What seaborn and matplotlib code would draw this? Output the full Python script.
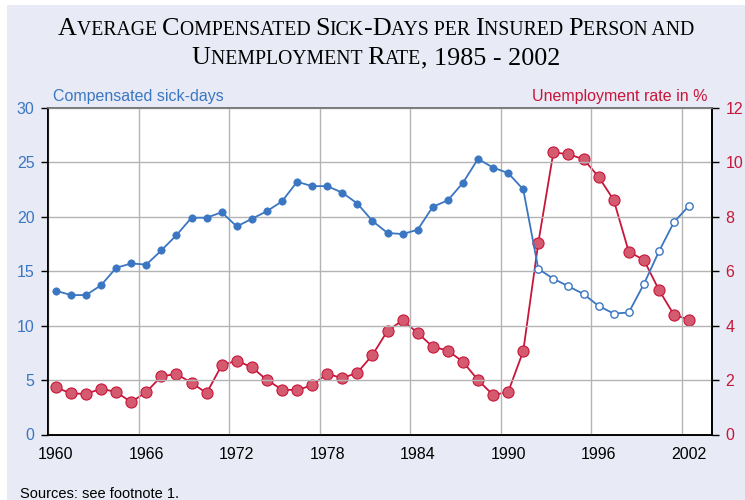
import matplotlib
matplotlib.use("Agg")
import matplotlib.pyplot as plt
from matplotlib.patches import Rectangle
from matplotlib.offsetbox import TextArea, HPacker, AnchoredOffsetbox
import seaborn as sns
import pandas as pd

# data (values plotted at mid-year)
years = list(range(1960, 2003))
sick_days = [13.2, 12.8, 12.8, 13.7, 15.3, 15.7, 15.6, 16.9, 18.3, 19.9,
             19.9, 20.4, 19.1, 19.8, 20.5, 21.4, 23.2, 22.8, 22.8, 22.2,
             21.2, 19.6, 18.5, 18.4, 18.8, 20.9, 21.5, 23.1, 25.3, 24.5,
             24.0, 22.5, 15.2, 14.3, 13.6, 12.9, 11.8, 11.1, 11.2, 13.8,
             16.8, 19.5, 21.0]
unemployment = [1.73, 1.51, 1.49, 1.68, 1.56, 1.19, 1.56, 2.14, 2.22, 1.90,
                1.52, 2.54, 2.71, 2.47, 2.00, 1.65, 1.63, 1.81, 2.23, 2.07,
                2.27, 2.92, 3.81, 4.19, 3.73, 3.22, 3.08, 2.67, 2.00, 1.45,
                1.56, 3.06, 7.04, 10.36, 10.29, 10.11, 9.46, 8.61, 6.71, 6.41,
                5.31, 4.39, 4.22]
first_unified_year = 1992
tick_years = [1960, 1966, 1972, 1978, 1984, 1990, 1996, 2002]

BLUE = "#3b76c2"
RED = "#c8163a"
RED_FACE = "#d45a6f"
BG = "#e8ebf5"

df = pd.DataFrame({"year": years, "sick": sick_days, "unemp": unemployment})
df["x"] = df["year"] + 0.5
west = df[df["year"] < first_unified_year]
unified = df[df["year"] >= first_unified_year]

sns.set_theme(style="whitegrid")
plt.rcParams["font.family"] = ["Liberation Sans", "DejaVu Sans"]

fig = plt.figure(figsize=(7.45, 5.0), dpi=100)
fig.patch.set_facecolor("white")
fig.patches.append(Rectangle((7 / 745, 0), 1, 1 - 5 / 500, transform=fig.transFigure,
                             facecolor=BG, edgecolor="none", zorder=-10))

ax = fig.add_axes([48.3 / 745, 65.5 / 500, 663.4 / 745, 326.8 / 500])
ax2 = ax.twinx()

# red series on right axis
sns.lineplot(data=df, x="x", y="unemp", ax=ax2, color=RED, linewidth=1.3,
             marker="o", markersize=8, markerfacecolor=RED_FACE,
             markeredgecolor=RED, markeredgewidth=0.8)

# blue series on left axis
sns.lineplot(data=df, x="x", y="sick", ax=ax, color=BLUE, linewidth=1.3)
sns.scatterplot(data=west, x="x", y="sick", ax=ax, color=BLUE, s=28,
                edgecolor=BLUE, linewidth=0.5, zorder=5)
sns.scatterplot(data=unified, x="x", y="sick", ax=ax, color="white", s=28,
                edgecolor=BLUE, linewidth=1.0, zorder=5)

# blue series drawn above the red one
ax2.set_zorder(0)
ax.set_zorder(1)
ax.patch.set_visible(False)
ax2.patch.set_visible(True)
ax2.patch.set_facecolor("white")

ax.set_xlim(1960, 2004)
ax.set_ylim(0, 30)
ax2.set_ylim(0, 12)
ax.set_yticks(range(0, 31, 5))
ax2.set_yticks(range(0, 13, 2))
ax2.grid(False)

ax.set_xticks(tick_years)
ax.set_xticklabels([])
ax.set_xticks([y + 0.5 for y in tick_years], minor=True)
ax.set_xticklabels([str(y) for y in tick_years], minor=True)
ax.tick_params(axis="x", which="major", direction="out", length=5, width=1, color="black")
ax.tick_params(axis="x", which="minor", length=0, pad=9, labelsize=11.5, labelcolor="black")
ax.tick_params(axis="y", direction="out", length=5, width=1, color="black",
               labelsize=11.5, labelcolor=BLUE, pad=5, left=True)
ax2.tick_params(axis="y", direction="out", length=5, width=1, color="black",
                labelsize=11.5, labelcolor=RED, pad=5, right=True)

ax.grid(True, which="major", color="#b4b4b4", linewidth=1)
ax.grid(False, which="minor")
ax.set_xlabel("")
ax.set_ylabel("")
ax2.set_ylabel("")

for a in (ax, ax2):
    for side in ("left", "right", "bottom"):
        a.spines[side].set_color("black")
        a.spines[side].set_linewidth(1.2)
    a.spines["top"].set_color("#777777")
    a.spines["top"].set_linewidth(1.2)

fig.text(53 / 745, 1 - 96 / 500, "Compensated sick-days", color=BLUE,
         fontsize=11.5, ha="left", va="center")
fig.text(708 / 745, 1 - 96 / 500, "Unemployment rate in %", color=RED,
         fontsize=11.5, ha="right", va="center")
fig.text(20 / 745, 2 / 500, "Sources: see footnote 1.", color="black",
         fontsize=10.5, ha="left", va="baseline")


# small-caps title built from text runs
def small_caps_line(text, big, small):
    runs = []
    cur, cur_big = "", None
    for ch in text:
        is_big = not ch.islower()
        if ch == " ":
            is_big = cur_big if cur_big is not None else True
        if cur_big is None or is_big == cur_big:
            cur += ch
        else:
            runs.append((cur, cur_big))
            cur = ch
        cur_big = is_big
    runs.append((cur, cur_big))
    kids = [TextArea(t.upper(), textprops=dict(family="Liberation Serif",
                                               fontsize=big if b else small,
                                               color="black"))
            for t, b in runs]
    return HPacker(children=kids, align="baseline", pad=0, sep=0)


for line, yc in (("Average Compensated Sick-Days per Insured Person and", 29),
                 ("Unemployment Rate, 1985 - 2002", 58)):
    box = AnchoredOffsetbox(loc="center", child=small_caps_line(line, 18.8, 14.2),
                            bbox_to_anchor=(376 / 745, 1 - yc / 500),
                            bbox_transform=fig.transFigure, frameon=False,
                            pad=0, borderpad=0)
    fig.add_artist(box)

fig.savefig("out.png", dpi=100, facecolor=fig.get_facecolor())
